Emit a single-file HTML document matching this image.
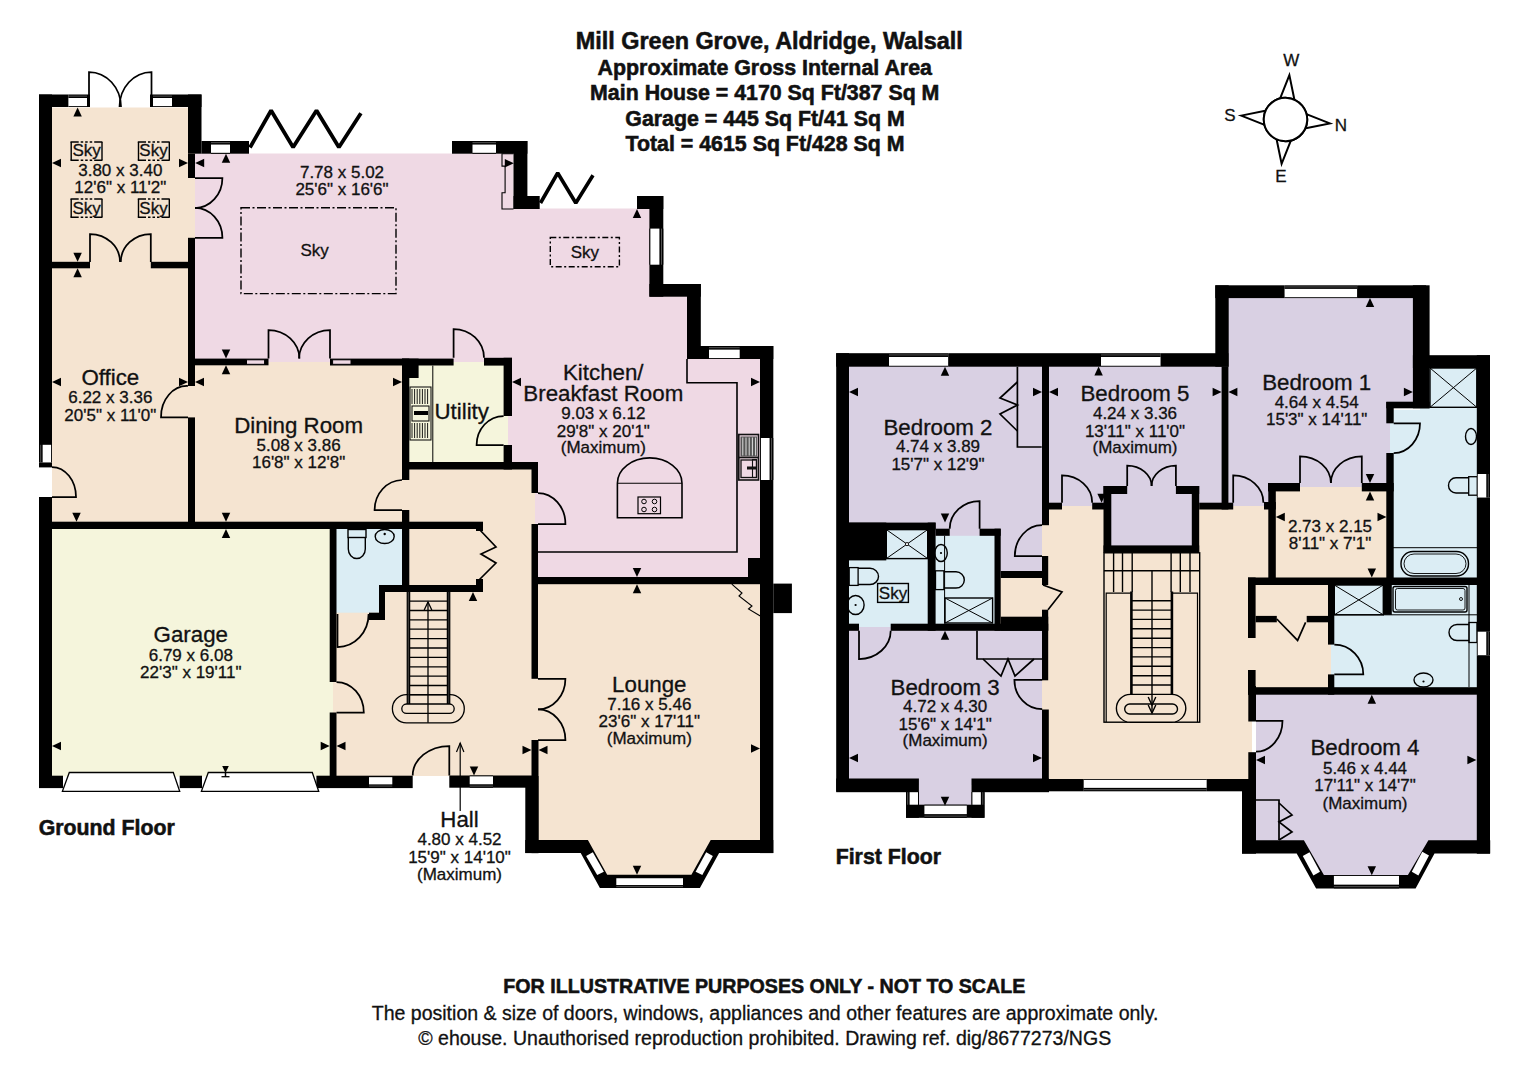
<!DOCTYPE html>
<html><head><meta charset="utf-8"><title>Floor Plan</title>
<style>
html,body{margin:0;padding:0;background:#fff;}
svg{display:block;}
text{font-family:"Liberation Sans", sans-serif;fill:#111;stroke:#111;stroke-width:0.3px;}
text[font-weight="700"]{stroke-width:0.55px;}
</style></head><body>
<svg width="1529" height="1080" viewBox="0 0 1529 1080">
<rect x="0" y="0" width="1529" height="1080" fill="#fff"/>
<rect x="45.00" y="107.50" width="150.00" height="154.50" fill="#F5E4D1" />
<rect x="52.00" y="262.00" width="140.00" height="263.00" fill="#F5E4D1" />
<rect x="192.00" y="362.00" width="214.00" height="163.00" fill="#F5E4D1" />
<rect x="332.00" y="466.00" width="203.00" height="310.00" fill="#F5E4D1" />
<polygon points="195.00,153.50 513.50,153.50 513.50,208.50 656.00,208.50 656.00,290.00 694.00,290.00 694.00,352.00 766.00,352.00 766.00,580.00 535.00,580.00 535.00,466.00 508.00,466.00 508.00,362.00 195.00,362.00" fill="#EFD9E4" stroke="none" stroke-width="0" />
<rect x="406.00" y="362.00" width="102.00" height="104.00" fill="#F5F5DC" />
<rect x="45.00" y="525.00" width="288.00" height="251.50" fill="#F5F5DC" />
<rect x="333.00" y="525.00" width="73.00" height="63.00" fill="#DBEDF4" />
<rect x="333.00" y="585.00" width="46.00" height="27.70" fill="#DBEDF4" />
<polygon points="535.00,580.00 766.00,580.00 766.00,846.00 710.70,846.00 691.40,880.00 607.20,880.00 587.90,846.00 535.00,846.00" fill="#F5E4D1" stroke="none" stroke-width="0" />
<rect x="241.00" y="207.80" width="155.00" height="85.80" fill="none" stroke="#000" stroke-width="1.4" stroke-dasharray="9,2.5,2,2.5"/>
<rect x="550.30" y="237.50" width="69.10" height="29.20" fill="none" stroke="#000" stroke-width="1.4" stroke-dasharray="6,2.5,2,2.5"/>
<path d="M71.2,142 V160.2 M102.0,142 V160.2" stroke="#000" stroke-width="1.4" fill="none"/>
<path d="M70.5,142 H102.7 M70.5,160.2 H102.7" stroke="#000" stroke-width="1.4" fill="none" stroke-dasharray="8.2,2,2.5,2,2.5,2,2.5,2,8.2"/>
<path d="M138.5,142 V160.2 M169.3,142 V160.2" stroke="#000" stroke-width="1.4" fill="none"/>
<path d="M137.8,142 H170.0 M137.8,160.2 H170.0" stroke="#000" stroke-width="1.4" fill="none" stroke-dasharray="8.2,2,2.5,2,2.5,2,2.5,2,8.2"/>
<path d="M71.2,199 V217.2 M102.0,199 V217.2" stroke="#000" stroke-width="1.4" fill="none"/>
<path d="M70.5,199 H102.7 M70.5,217.2 H102.7" stroke="#000" stroke-width="1.4" fill="none" stroke-dasharray="8.2,2,2.5,2,2.5,2,2.5,2,8.2"/>
<path d="M138.5,199 V217.2 M169.3,199 V217.2" stroke="#000" stroke-width="1.4" fill="none"/>
<path d="M137.8,199 H170.0 M137.8,217.2 H170.0" stroke="#000" stroke-width="1.4" fill="none" stroke-dasharray="8.2,2,2.5,2,2.5,2,2.5,2,8.2"/>
<polyline points="687.00,359.00 687.00,382.80 737.00,382.80 737.00,552.00 538.00,552.00" fill="none" stroke="#000" stroke-width="1.6" />
<path d="M617.4,517.8 L617.4,483.2 A32.3,25.3 0 0 1 682,483.2 L682,517.8 Z" fill="none" stroke="#000" stroke-width="1.6" />
<path d="M617.4,483.2 L682,483.2" fill="none" stroke="#000" stroke-width="1.1" />
<rect x="638.00" y="497.00" width="22.50" height="16.70" fill="none" stroke="#000" stroke-width="1.2"/>
<circle cx="644" cy="501.5" r="2.3" fill="none" stroke="#000" stroke-width="1"/>
<circle cx="654.5" cy="501.5" r="2.3" fill="none" stroke="#000" stroke-width="1"/>
<circle cx="644" cy="509.5" r="2.3" fill="none" stroke="#000" stroke-width="1"/>
<circle cx="654.5" cy="509.5" r="2.3" fill="none" stroke="#000" stroke-width="1"/>
<rect x="738.80" y="434.50" width="19.70" height="45.50" fill="none" stroke="#111" stroke-width="1.6"/>
<rect x="740.50" y="436.50" width="16.50" height="20.00" fill="#555" />
<line x1="742.8" y1="437.5" x2="742.8" y2="455.5" stroke="#eee" stroke-width="0.9"/>
<line x1="746.0" y1="437.5" x2="746.0" y2="455.5" stroke="#eee" stroke-width="0.9"/>
<line x1="749.2" y1="437.5" x2="749.2" y2="455.5" stroke="#eee" stroke-width="0.9"/>
<line x1="752.4" y1="437.5" x2="752.4" y2="455.5" stroke="#eee" stroke-width="0.9"/>
<line x1="755.6" y1="437.5" x2="755.6" y2="455.5" stroke="#eee" stroke-width="0.9"/>
<line x1="739" y1="457.5" x2="758.5" y2="457.5" stroke="#111" stroke-width="1.6"/>
<rect x="741.00" y="460.00" width="15.50" height="17.50" fill="none" stroke="#111" stroke-width="1.3"/>
<rect x="747.00" y="466.50" width="10.00" height="3.00" fill="#111" />
<rect x="752.50" y="459.50" width="4.00" height="18.00" fill="none" stroke="#111" stroke-width="1.1"/>
<polyline points="513.50,153.70 502.00,153.70 502.00,166.10 505.10,166.10 505.10,192.80 502.00,192.80 502.00,209.00 513.50,209.00" fill="none" stroke="#000" stroke-width="1.1" />
<polygon points="513.80,163.30 504.80,159.07 504.80,167.53" fill="#000" stroke="none" stroke-width="0" />
<line x1="432.8" y1="365.6" x2="432.8" y2="462" stroke="#000" stroke-width="1"/>
<rect x="410.00" y="387.00" width="21.00" height="53.00" fill="none" stroke="#000" stroke-width="1"/>
<line x1="412.0" y1="389" x2="412.0" y2="404" stroke="#000" stroke-width="0.9"/>
<line x1="412.0" y1="423" x2="412.0" y2="438" stroke="#000" stroke-width="0.9"/>
<line x1="414.6" y1="389" x2="414.6" y2="404" stroke="#000" stroke-width="0.9"/>
<line x1="414.6" y1="423" x2="414.6" y2="438" stroke="#000" stroke-width="0.9"/>
<line x1="417.2" y1="389" x2="417.2" y2="404" stroke="#000" stroke-width="0.9"/>
<line x1="417.2" y1="423" x2="417.2" y2="438" stroke="#000" stroke-width="0.9"/>
<line x1="419.8" y1="389" x2="419.8" y2="404" stroke="#000" stroke-width="0.9"/>
<line x1="419.8" y1="423" x2="419.8" y2="438" stroke="#000" stroke-width="0.9"/>
<line x1="422.4" y1="389" x2="422.4" y2="404" stroke="#000" stroke-width="0.9"/>
<line x1="422.4" y1="423" x2="422.4" y2="438" stroke="#000" stroke-width="0.9"/>
<line x1="425.0" y1="389" x2="425.0" y2="404" stroke="#000" stroke-width="0.9"/>
<line x1="425.0" y1="423" x2="425.0" y2="438" stroke="#000" stroke-width="0.9"/>
<line x1="427.6" y1="389" x2="427.6" y2="404" stroke="#000" stroke-width="0.9"/>
<line x1="427.6" y1="423" x2="427.6" y2="438" stroke="#000" stroke-width="0.9"/>
<rect x="412.00" y="406.00" width="17.00" height="15.00" fill="none" stroke="#000" stroke-width="1"/>
<rect x="414.00" y="411.00" width="14.00" height="4.00" fill="#000" />
<rect x="348.00" y="529.50" width="18.00" height="8.00" fill="none" stroke="#000" stroke-width="1.4"/>
<path d="M348.3,537.5 V549 A8.5,9.5 0 0 0 365.3,549 V537.5" fill="none" stroke="#000" stroke-width="1.4" />
<ellipse cx="384.7" cy="536.5" rx="9.5" ry="7" fill="none" stroke="#000" stroke-width="1.4"/>
<circle cx="384.7" cy="534" r="1.2" fill="#000"/>
<g stroke="#000" fill="none" stroke-width="1.3">
<rect x="392.4" y="694.6" width="71.9" height="28.2" rx="14.1" fill="#F5E4D1"/>
<line x1="407.3" y1="592" x2="407.3" y2="704.5" />
<line x1="409.6" y1="592" x2="409.6" y2="704.5" />
<line x1="447.4" y1="592" x2="447.4" y2="704.5" />
<line x1="449.7" y1="592" x2="449.7" y2="704.5" />
<path d="M408.4,592 V704.5 M448.5,592 V704.5" stroke-width="1.0" stroke="#2a2a2a"/>
<line x1="409.6" y1="601.1" x2="447.4" y2="601.1"/>
<line x1="409.6" y1="610.5" x2="447.4" y2="610.5"/>
<line x1="409.6" y1="619.9" x2="447.4" y2="619.9"/>
<line x1="409.6" y1="629.2" x2="447.4" y2="629.2"/>
<line x1="409.6" y1="638.6" x2="447.4" y2="638.6"/>
<line x1="409.6" y1="648.0" x2="447.4" y2="648.0"/>
<line x1="409.6" y1="657.4" x2="447.4" y2="657.4"/>
<line x1="409.6" y1="666.8" x2="447.4" y2="666.8"/>
<line x1="409.6" y1="676.1" x2="447.4" y2="676.1"/>
<line x1="409.6" y1="685.5" x2="447.4" y2="685.5"/>
<line x1="409.6" y1="694.9" x2="447.4" y2="694.9"/>
<rect x="401.8" y="704" width="52.4" height="9.4" rx="4.7" fill="#F5E4D1"/>
<line x1="428" y1="602" x2="428" y2="722.8"/>
<path d="M424.2,610 L428,602 L431.8,610"/>
</g>
<polyline points="479.00,529.00 496.00,547.00 481.00,554.00 496.00,563.00 479.00,580.00" fill="none" stroke="#000" stroke-width="1.7" />
<line x1="460.2" y1="743" x2="460.2" y2="811" stroke="#000" stroke-width="1.2"/>
<path d="M456.5,752 L460.2,743 L463.9,752" fill="none" stroke="#000" stroke-width="1.2"/>
<polyline points="731.80,584.20 742.00,593.00 739.00,596.00 752.00,606.00 748.50,609.00 760.30,616.00" fill="none" stroke="#000" stroke-width="1.1" />
<rect x="39.00" y="94.50" width="13.00" height="350.50" fill="#000" />
<rect x="39.00" y="444.80" width="13.00" height="17.80" fill="#000" />
<rect x="42.64" y="444.80" width="8.45" height="17.80" fill="#fff" />
<line x1="40.69" y1="444.80" x2="40.69" y2="462.60" stroke="#777" stroke-width="0.7"/>
<rect x="39.00" y="462.60" width="13.00" height="4.80" fill="#000" />
<rect x="39.00" y="497.00" width="13.00" height="290.50" fill="#000" />
<rect x="39.00" y="94.50" width="29.50" height="12.50" fill="#000" />
<rect x="68.50" y="94.50" width="18.50" height="12.50" fill="#000" />
<rect x="68.50" y="98.00" width="18.50" height="8.12" fill="#fff" />
<line x1="68.50" y1="96.12" x2="87.00" y2="96.12" stroke="#777" stroke-width="0.7"/>
<rect x="87.00" y="94.50" width="3.00" height="12.50" fill="#000" />
<rect x="150.00" y="94.50" width="3.00" height="12.50" fill="#000" />
<rect x="153.00" y="94.50" width="19.00" height="12.50" fill="#000" />
<rect x="153.00" y="98.00" width="19.00" height="8.12" fill="#fff" />
<line x1="153.00" y1="96.12" x2="172.00" y2="96.12" stroke="#777" stroke-width="0.7"/>
<rect x="172.00" y="94.50" width="29.50" height="12.50" fill="#000" />
<rect x="188.00" y="94.50" width="13.50" height="59.20" fill="#000" />
<rect x="188.00" y="153.70" width="7.00" height="24.30" fill="#000" />
<rect x="188.00" y="237.80" width="7.00" height="148.20" fill="#000" />
<rect x="188.00" y="417.40" width="7.00" height="111.60" fill="#000" />
<rect x="52.00" y="261.80" width="38.00" height="6.50" fill="#000" />
<rect x="150.80" y="261.80" width="44.20" height="6.50" fill="#000" />
<rect x="201.50" y="141.00" width="47.50" height="12.70" fill="#000" />
<rect x="211.00" y="141.00" width="19.00" height="12.70" fill="#000" />
<rect x="211.00" y="144.56" width="19.00" height="8.25" fill="#fff" />
<line x1="211.00" y1="142.65" x2="230.00" y2="142.65" stroke="#777" stroke-width="0.7"/>
<rect x="452.00" y="141.00" width="75.40" height="12.70" fill="#000" />
<rect x="472.50" y="141.00" width="23.50" height="12.70" fill="#000" />
<rect x="472.50" y="144.56" width="23.50" height="8.25" fill="#fff" />
<line x1="472.50" y1="142.65" x2="496.00" y2="142.65" stroke="#777" stroke-width="0.7"/>
<rect x="513.50" y="141.00" width="13.90" height="68.00" fill="#000" />
<rect x="513.50" y="196.00" width="26.20" height="13.00" fill="#000" />
<rect x="637.00" y="196.00" width="26.30" height="13.00" fill="#000" />
<rect x="649.40" y="196.00" width="13.90" height="100.70" fill="#000" />
<rect x="649.40" y="228.60" width="13.90" height="36.10" fill="#000" />
<rect x="650.37" y="228.60" width="9.04" height="36.10" fill="#fff" />
<line x1="661.49" y1="228.60" x2="661.49" y2="264.70" stroke="#777" stroke-width="0.7"/>
<rect x="649.40" y="284.00" width="51.40" height="12.70" fill="#000" />
<rect x="687.00" y="284.00" width="13.80" height="75.00" fill="#000" />
<rect x="687.00" y="346.00" width="86.30" height="13.00" fill="#000" />
<rect x="709.00" y="346.00" width="30.70" height="13.00" fill="#000" />
<rect x="709.00" y="349.64" width="30.70" height="8.45" fill="#fff" />
<line x1="709.00" y1="347.69" x2="739.70" y2="347.69" stroke="#777" stroke-width="0.7"/>
<rect x="760.00" y="346.00" width="13.30" height="507.10" fill="#000" />
<rect x="760.00" y="438.00" width="13.30" height="42.00" fill="#000" />
<rect x="760.93" y="438.00" width="8.64" height="42.00" fill="#fff" />
<line x1="771.57" y1="438.00" x2="771.57" y2="480.00" stroke="#777" stroke-width="0.7"/>
<rect x="773.30" y="583.60" width="18.60" height="29.50" fill="#000" />
<rect x="748.00" y="558.00" width="12.30" height="19.00" fill="#000" />
<rect x="195.00" y="358.60" width="73.50" height="6.70" fill="#000" />
<rect x="246.50" y="359.80" width="18.10" height="4.50" fill="#EFD9E4" stroke="#000" stroke-width="1"/>
<rect x="330.00" y="358.60" width="123.60" height="6.90" fill="#000" />
<rect x="332.60" y="359.80" width="18.40" height="4.50" fill="#EFD9E4" stroke="#000" stroke-width="1"/>
<rect x="484.00" y="357.80" width="28.00" height="7.80" fill="#000" />
<rect x="402.00" y="358.60" width="16.60" height="19.40" fill="#000" />
<rect x="402.00" y="358.60" width="7.30" height="121.40" fill="#000" />
<rect x="402.00" y="510.00" width="7.30" height="82.00" fill="#000" />
<rect x="503.60" y="357.80" width="8.40" height="58.20" fill="#000" />
<rect x="503.60" y="445.00" width="8.40" height="24.50" fill="#000" />
<rect x="402.00" y="462.00" width="136.00" height="7.50" fill="#000" />
<rect x="531.50" y="462.00" width="6.50" height="31.00" fill="#000" />
<rect x="531.50" y="524.00" width="6.50" height="154.80" fill="#000" />
<rect x="531.50" y="740.00" width="7.00" height="113.10" fill="#000" />
<rect x="525.30" y="776.00" width="13.20" height="77.10" fill="#000" />
<rect x="538.00" y="577.00" width="222.30" height="7.20" fill="#000" />
<rect x="39.00" y="521.70" width="444.00" height="7.30" fill="#000" />
<rect x="476.00" y="523.00" width="7.00" height="8.00" fill="#000" />
<rect x="379.00" y="585.00" width="104.00" height="7.00" fill="#000" />
<rect x="476.00" y="579.00" width="7.00" height="13.00" fill="#000" />
<rect x="379.00" y="585.00" width="6.00" height="35.00" fill="#000" />
<rect x="369.00" y="612.70" width="16.00" height="7.30" fill="#000" />
<rect x="329.70" y="529.00" width="6.80" height="153.00" fill="#000" />
<rect x="329.70" y="712.50" width="6.80" height="75.00" fill="#000" />
<rect x="39.00" y="775.70" width="24.00" height="12.40" fill="#000" />
<rect x="179.70" y="775.70" width="22.30" height="12.40" fill="#000" />
<rect x="316.40" y="775.70" width="96.30" height="12.40" fill="#000" />
<rect x="369.00" y="776.40" width="23.30" height="11.10" fill="#000" />
<rect x="369.00" y="777.18" width="23.30" height="7.21" fill="#fff" />
<line x1="369.00" y1="786.06" x2="392.30" y2="786.06" stroke="#777" stroke-width="0.7"/>
<rect x="449.30" y="775.50" width="88.70" height="12.20" fill="#000" />
<rect x="469.70" y="775.50" width="23.30" height="12.20" fill="#000" />
<rect x="469.70" y="776.35" width="23.30" height="7.93" fill="#fff" />
<line x1="469.70" y1="786.11" x2="493.00" y2="786.11" stroke="#777" stroke-width="0.7"/>
<polygon points="525.30,853.10 580.70,853.10 599.90,888.00 699.90,888.00 719.10,853.10 773.30,853.10 773.30,839.90 710.70,839.90 691.40,874.80 607.20,874.80 587.90,839.90 525.30,839.90" fill="#000" stroke="none" stroke-width="0" />
<rect x="616.30" y="877.50" width="66.70" height="10.50" fill="#000" />
<rect x="616.30" y="878.24" width="66.70" height="6.82" fill="#fff" />
<line x1="616.30" y1="886.63" x2="683.00" y2="886.63" stroke="#777" stroke-width="0.7"/>
<polygon points="586.10,856.10 592.80,852.20 603.90,871.70 597.20,875.00" fill="#fff" stroke="none" stroke-width="0" />
<polygon points="712.90,856.10 706.20,852.20 695.60,871.70 702.30,875.00" fill="#fff" stroke="none" stroke-width="0" />
<polygon points="69.30,772.50 173.30,772.50 179.70,791.30 62.40,791.30" fill="#fff" stroke="#000" stroke-width="1.3" />
<polygon points="208.30,772.50 312.30,772.50 318.70,791.30 201.40,791.30" fill="#fff" stroke="#000" stroke-width="1.3" />
<path d="M89,107 L89,72 A32,35 0 0 1 121,107" fill="none" stroke="#000" stroke-width="1.75" />
<path d="M151.5,107 L151.5,72 A32,35 0 0 0 119.5,107" fill="none" stroke="#000" stroke-width="1.75" />
<path d="M90,262 L90,234 A30,28 0 0 1 120,262" fill="none" stroke="#000" stroke-width="1.75" />
<path d="M150.8,262 L150.8,234 A30,28 0 0 0 120.8,262" fill="none" stroke="#000" stroke-width="1.75" />
<path d="M195,178 L222.4,178 A27.4,30 0 0 1 195,208" fill="none" stroke="#000" stroke-width="1.75" />
<path d="M195,237.8 L222.4,237.8 A27.4,30 0 0 0 195,207.8" fill="none" stroke="#000" stroke-width="1.75" />
<path d="M52,467 A24,30 0 0 1 76,497 L52,497" fill="none" stroke="#000" stroke-width="1.75" />
<path d="M188,386 A26,31 0 0 0 161,417.4 L188,417.4" fill="none" stroke="#000" stroke-width="1.75" />
<path d="M268.5,358.6 L268.5,330 A31,29 0 0 1 299.5,358.6" fill="none" stroke="#000" stroke-width="1.75" />
<path d="M330,358.6 L330,330 A31,29 0 0 0 299,358.6" fill="none" stroke="#000" stroke-width="1.75" />
<path d="M453.6,357.8 L453.6,329 A30.4,28.8 0 0 1 484,357.8" fill="none" stroke="#000" stroke-width="1.75" />
<path d="M503.6,416 A27,29 0 0 0 476.6,445 L503.6,445" fill="none" stroke="#000" stroke-width="1.75" />
<path d="M402,480 A28,30 0 0 0 374.6,510 L402,510" fill="none" stroke="#000" stroke-width="1.75" />
<path d="M538,493 A27.4,31 0 0 1 565.4,524 L538,524" fill="none" stroke="#000" stroke-width="1.75" />
<path d="M337.5,614 L337.5,647 A31,33 0 0 0 368.6,614" fill="none" stroke="#000" stroke-width="1.75" />
<path d="M336.5,682 A27.3,30.5 0 0 1 363.8,712.5 L336.5,712.5" fill="none" stroke="#000" stroke-width="1.75" />
<path d="M538,678.8 L565.4,678.8 A27.4,30.6 0 0 1 538,709.4" fill="none" stroke="#000" stroke-width="1.75" />
<path d="M538,740 L565.4,740 A27.4,30.6 0 0 0 538,709.4" fill="none" stroke="#000" stroke-width="1.75" />
<path d="M449.3,775.5 L449.3,746 A36.6,29.5 0 0 0 412.7,775.5" fill="none" stroke="#000" stroke-width="1.75" />
<polyline points="250.00,147.50 271.10,110.50 293.10,147.20 316.50,110.50 338.90,147.20 360.90,113.20" fill="none" stroke="#000" stroke-width="3.8" stroke-linejoin="bevel"/>
<polyline points="540.50,203.00 557.70,173.00 575.80,203.00 593.00,175.20" fill="none" stroke="#000" stroke-width="3.6" stroke-linejoin="bevel"/>
<polygon points="77.60,107.50 73.37,116.50 81.83,116.50" fill="#000" stroke="none" stroke-width="0" />
<polygon points="52.00,163.00 61.00,158.77 61.00,167.23" fill="#000" stroke="none" stroke-width="0" />
<polygon points="188.00,163.00 179.00,158.77 179.00,167.23" fill="#000" stroke="none" stroke-width="0" />
<polygon points="195.20,163.00 204.20,158.77 204.20,167.23" fill="#000" stroke="none" stroke-width="0" />
<polygon points="226.00,153.70 221.77,162.70 230.23,162.70" fill="#000" stroke="none" stroke-width="0" />
<polygon points="77.60,261.80 73.37,252.80 81.83,252.80" fill="#000" stroke="none" stroke-width="0" />
<polygon points="77.60,268.30 73.37,277.30 81.83,277.30" fill="#000" stroke="none" stroke-width="0" />
<polygon points="52.00,382.00 61.00,377.77 61.00,386.23" fill="#000" stroke="none" stroke-width="0" />
<polygon points="188.00,382.00 179.00,377.77 179.00,386.23" fill="#000" stroke="none" stroke-width="0" />
<polygon points="195.00,382.00 204.00,377.77 204.00,386.23" fill="#000" stroke="none" stroke-width="0" />
<polygon points="402.00,382.00 393.00,377.77 393.00,386.23" fill="#000" stroke="none" stroke-width="0" />
<polygon points="226.00,358.60 221.77,349.60 230.23,349.60" fill="#000" stroke="none" stroke-width="0" />
<polygon points="226.00,365.30 221.77,374.30 230.23,374.30" fill="#000" stroke="none" stroke-width="0" />
<polygon points="76.50,521.70 72.27,512.70 80.73,512.70" fill="#000" stroke="none" stroke-width="0" />
<polygon points="226.00,521.70 221.77,512.70 230.23,512.70" fill="#000" stroke="none" stroke-width="0" />
<polygon points="226.00,529.00 221.77,538.00 230.23,538.00" fill="#000" stroke="none" stroke-width="0" />
<polygon points="637.00,209.00 632.77,218.00 641.23,218.00" fill="#000" stroke="none" stroke-width="0" />
<polygon points="512.00,382.00 521.00,377.77 521.00,386.23" fill="#000" stroke="none" stroke-width="0" />
<polygon points="760.00,382.00 751.00,377.77 751.00,386.23" fill="#000" stroke="none" stroke-width="0" />
<polygon points="637.00,577.00 632.77,568.00 641.23,568.00" fill="#000" stroke="none" stroke-width="0" />
<polygon points="637.00,584.20 632.77,593.20 641.23,593.20" fill="#000" stroke="none" stroke-width="0" />
<polygon points="52.00,746.00 61.00,741.77 61.00,750.23" fill="#000" stroke="none" stroke-width="0" />
<polygon points="329.70,746.00 320.70,741.77 320.70,750.23" fill="#000" stroke="none" stroke-width="0" />
<polygon points="336.50,746.00 345.50,741.77 345.50,750.23" fill="#000" stroke="none" stroke-width="0" />
<polygon points="531.50,750.00 522.50,745.77 522.50,754.23" fill="#000" stroke="none" stroke-width="0" />
<polygon points="538.50,750.00 547.50,745.77 547.50,754.23" fill="#000" stroke="none" stroke-width="0" />
<polygon points="760.00,748.50 751.00,744.27 751.00,752.73" fill="#000" stroke="none" stroke-width="0" />
<polygon points="225.50,773.00 222.21,766.00 228.79,766.00" fill="#000" stroke="none" stroke-width="0" />
<line x1="225.5" y1="772" x2="225.5" y2="776.7" stroke="#000" stroke-width="1.5"/>
<line x1="221.5" y1="776.7" x2="229.5" y2="776.7" stroke="#000" stroke-width="1.3"/>
<polygon points="473.00,592.00 468.77,601.00 477.23,601.00" fill="#000" stroke="none" stroke-width="0" />
<polygon points="474.00,775.50 469.77,766.50 478.23,766.50" fill="#000" stroke="none" stroke-width="0" />
<polygon points="637.00,874.80 632.77,865.80 641.23,865.80" fill="#000" stroke="none" stroke-width="0" />
<rect x="845.00" y="362.00" width="201.00" height="174.00" fill="#D9D0E3" />
<rect x="997.00" y="527.00" width="49.00" height="48.00" fill="#D9D0E3" />
<rect x="1046.00" y="362.00" width="179.00" height="144.00" fill="#D9D0E3" />
<rect x="1225.00" y="294.00" width="191.00" height="112.00" fill="#D9D0E3" />
<rect x="1225.00" y="406.00" width="165.00" height="81.00" fill="#D9D0E3" />
<rect x="1225.00" y="487.00" width="46.00" height="19.00" fill="#D9D0E3" />
<rect x="845.00" y="627.00" width="201.00" height="158.00" fill="#D9D0E3" />
<rect x="919.00" y="785.00" width="52.50" height="21.00" fill="#D9D0E3" />
<rect x="1042.00" y="506.00" width="210.00" height="279.00" fill="#F5E4D1" />
<rect x="1252.00" y="506.00" width="19.00" height="75.00" fill="#F5E4D1" />
<rect x="1271.00" y="487.00" width="119.00" height="94.00" fill="#F5E4D1" />
<rect x="1252.00" y="581.00" width="79.00" height="110.00" fill="#F5E4D1" />
<rect x="997.00" y="575.00" width="49.00" height="52.00" fill="#F5E4D1" />
<rect x="1111.00" y="490.00" width="81.00" height="59.00" fill="#D9D0E3" />
<rect x="1420.00" y="362.00" width="63.00" height="48.00" fill="#DBEDF4" />
<rect x="1390.00" y="410.00" width="93.00" height="171.00" fill="#DBEDF4" />
<rect x="1331.00" y="581.00" width="152.00" height="110.00" fill="#DBEDF4" />
<rect x="849.00" y="560.00" width="82.00" height="67.00" fill="#DBEDF4" />
<rect x="886.00" y="529.00" width="45.00" height="31.00" fill="#DBEDF4" />
<rect x="931.00" y="535.80" width="66.00" height="91.20" fill="#DBEDF4" />
<polygon points="1256.00,691.00 1483.00,691.00 1483.00,846.00 1428.40,846.00 1407.90,880.00 1323.90,880.00 1303.90,846.00 1256.00,846.00" fill="#D9D0E3" stroke="none" stroke-width="0" />
<polyline points="1017.40,366.70 1017.40,447.00 1041.70,447.00" fill="none" stroke="#000" stroke-width="1.7" />
<polyline points="1017.40,382.00 1000.00,398.00 1017.40,405.00 1000.00,414.00 1017.40,431.00" fill="none" stroke="#000" stroke-width="1.7" />
<polyline points="977.00,630.80 977.00,659.00 1042.00,659.00" fill="none" stroke="#000" stroke-width="1.7" />
<polyline points="983.00,659.00 1001.00,676.00 1008.00,659.00 1015.00,676.00 1034.00,659.00" fill="none" stroke="#000" stroke-width="1.7" />
<polyline points="1256.00,800.00 1279.00,800.00 1279.00,840.00" fill="none" stroke="#000" stroke-width="1.7" />
<polyline points="1279.00,803.00 1292.00,815.00 1279.00,822.00 1292.00,832.00 1279.00,840.00" fill="none" stroke="#000" stroke-width="1.7" />
<rect x="886.30" y="529.60" width="41.40" height="29.00" fill="none" stroke="#000" stroke-width="1.4"/>
<path d="M886.3,529.6 L927.7,558.6 M927.7,529.6 L886.3,558.6" fill="none" stroke="#000" stroke-width="1.0" />
<circle cx="907" cy="544.1" r="1.6" fill="#fff" stroke="#000" stroke-width="0.9"/>
<rect x="849.20" y="567.60" width="8.90" height="17.80" fill="none" stroke="#000" stroke-width="1.3"/>
<path d="M858.1,568.3 H870 A8.5,8.1 0 0 1 870,584.5 H858.1" fill="none" stroke="#000" stroke-width="1.4" />
<ellipse cx="855.6" cy="605" rx="8.5" ry="9.5" fill="none" stroke="#000" stroke-width="1.4"/>
<circle cx="855.6" cy="605" r="1.1" fill="#000"/>
<rect x="877.60" y="583.50" width="30.80" height="18.90" fill="none" stroke="#000" stroke-width="1.4"/>
<line x1="944.6" y1="535.8" x2="944.6" y2="623.7" stroke="#000" stroke-width="1"/>
<rect x="945.00" y="598.00" width="47.60" height="25.00" fill="none" stroke="#000" stroke-width="1.4"/>
<path d="M945,598 L992.6,623 M992.6,598 L945,623" fill="none" stroke="#000" stroke-width="1.0" />
<ellipse cx="941" cy="553" rx="6.3" ry="8.5" fill="none" stroke="#000" stroke-width="1.4"/>
<circle cx="941" cy="553" r="1.1" fill="#000"/>
<path d="M943.9,571.8 H956 A8.3,8.1 0 0 1 956,588 H943.9" fill="none" stroke="#000" stroke-width="1.4" />
<rect x="935.50" y="570.80" width="8.40" height="18.80" fill="none" stroke="#000" stroke-width="1.3"/>
<rect x="1430.00" y="368.00" width="46.80" height="39.30" fill="none" stroke="#000" stroke-width="1.4"/>
<path d="M1430,368 L1476.8,407.3 M1476.8,368 L1430,407.3" fill="none" stroke="#000" stroke-width="1.0" />
<ellipse cx="1471" cy="436.5" rx="5.5" ry="8" fill="none" stroke="#000" stroke-width="1.4"/>
<path d="M1468.7,477.8 H1456 A7.5,7.6 0 0 0 1456,493 H1468.7" fill="none" stroke="#000" stroke-width="1.4" />
<rect x="1468.70" y="476.70" width="8.70" height="18.50" fill="none" stroke="#000" stroke-width="1.3"/>
<line x1="1393" y1="547.7" x2="1477" y2="547.7" stroke="#000" stroke-width="1"/>
<rect x="1401.00" y="551.50" width="67.50" height="24.50" fill="none" stroke="#000" stroke-width="1.4" rx="12"/>
<rect x="1404.00" y="554.00" width="62.00" height="19.50" fill="none" stroke="#000" stroke-width="0.9" rx="10"/>
<rect x="1334.30" y="585.00" width="49.00" height="29.80" fill="none" stroke="#000" stroke-width="1.4"/>
<path d="M1334.3,585 L1383.3,614.8 M1383.3,585 L1334.3,614.8" fill="none" stroke="#000" stroke-width="1.0" />
<line x1="1334.3" y1="614.8" x2="1477" y2="614.8" stroke="#000" stroke-width="1"/>
<rect x="1393.00" y="586.50" width="74.00" height="25.50" fill="none" stroke="#000" stroke-width="1.4" rx="2"/>
<rect x="1395.50" y="588.50" width="69.50" height="21.50" fill="none" stroke="#000" stroke-width="0.9" rx="2"/>
<circle cx="1461" cy="599" r="1.5" fill="none" stroke="#000" stroke-width="0.9"/>
<line x1="1469" y1="585" x2="1469" y2="687" stroke="#000" stroke-width="1"/>
<path d="M1469,624.5 H1457 A8,8 0 0 0 1457,640.5 H1469" fill="none" stroke="#000" stroke-width="1.4" />
<rect x="1469.00" y="622.50" width="8.00" height="20.00" fill="none" stroke="#000" stroke-width="1.3"/>
<ellipse cx="1423.5" cy="680" rx="9.5" ry="7" fill="none" stroke="#000" stroke-width="1.4"/>
<circle cx="1423.5" cy="681.5" r="1.1" fill="#000"/>
<polyline points="1276.80,619.00 1297.60,640.40 1305.60,622.30" fill="none" stroke="#000" stroke-width="1.7" />
<polyline points="1043.00,585.00 1062.00,592.00 1048.00,609.70" fill="none" stroke="#000" stroke-width="1.7" />
<g stroke="#000" fill="none" stroke-width="1.4">
<rect x="1104" y="552.8" width="95.7" height="169.4"/>
<path d="M1106.2,722 V593.2 H1130.3 M1197.5,722 V593.2 H1173" stroke-width="1.2"/>
<line x1="1113.6" y1="552.8" x2="1113.6" y2="592"/>
<line x1="1122.5" y1="552.8" x2="1122.5" y2="592"/>
<line x1="1132.2" y1="552.8" x2="1132.2" y2="592"/>
<line x1="1171.1" y1="552.8" x2="1171.1" y2="592"/>
<line x1="1180.3" y1="552.8" x2="1180.3" y2="592"/>
<line x1="1190" y1="552.8" x2="1190" y2="592"/>
<line x1="1104" y1="570.8" x2="1199.7" y2="570.8"/>
<line x1="1131" y1="600.7" x2="1172.3" y2="600.7"/>
<line x1="1131" y1="610.1" x2="1172.3" y2="610.1"/>
<line x1="1131" y1="619.4" x2="1172.3" y2="619.4"/>
<line x1="1131" y1="628.8" x2="1172.3" y2="628.8"/>
<line x1="1131" y1="638.2" x2="1172.3" y2="638.2"/>
<line x1="1131" y1="647.6" x2="1172.3" y2="647.6"/>
<line x1="1131" y1="656.9" x2="1172.3" y2="656.9"/>
<line x1="1131" y1="666.3" x2="1172.3" y2="666.3"/>
<line x1="1131" y1="675.7" x2="1172.3" y2="675.7"/>
<line x1="1131" y1="685.0" x2="1172.3" y2="685.0"/>
<path d="M1131.4,591.5 V694.6 M1171.9,591.5 V694.6" stroke-width="2.6"/>
<rect x="1116.4" y="694.4" width="69.4" height="27.8" rx="13.9" fill="#F5E4D1"/>
<rect x="1124.7" y="704" width="52.8" height="10" rx="5"/>
<line x1="1152" y1="570.8" x2="1152" y2="713"/>
<path d="M1148.2,697 L1152,705 L1155.8,697 M1148.2,705 L1152,713 L1155.8,705"/>
</g>
<rect x="836.20" y="353.20" width="12.80" height="438.30" fill="#000" />
<rect x="836.20" y="353.20" width="52.80" height="13.50" fill="#000" />
<rect x="889.00" y="353.20" width="59.20" height="13.50" fill="#000" />
<rect x="889.00" y="356.98" width="59.20" height="8.78" fill="#fff" />
<line x1="889.00" y1="354.95" x2="948.20" y2="354.95" stroke="#777" stroke-width="0.7"/>
<rect x="948.20" y="353.20" width="152.80" height="13.50" fill="#000" />
<rect x="1101.00" y="353.20" width="59.70" height="13.50" fill="#000" />
<rect x="1101.00" y="356.98" width="59.70" height="8.78" fill="#fff" />
<line x1="1101.00" y1="354.95" x2="1160.70" y2="354.95" stroke="#777" stroke-width="0.7"/>
<rect x="1160.70" y="353.20" width="67.70" height="13.50" fill="#000" />
<rect x="1215.30" y="285.30" width="69.40" height="12.80" fill="#000" />
<rect x="1284.70" y="285.30" width="72.40" height="12.80" fill="#000" />
<rect x="1284.70" y="288.88" width="72.40" height="8.32" fill="#fff" />
<line x1="1284.70" y1="286.96" x2="1357.10" y2="286.96" stroke="#777" stroke-width="0.7"/>
<rect x="1357.10" y="285.30" width="69.00" height="12.80" fill="#000" />
<rect x="1215.30" y="285.30" width="13.40" height="81.40" fill="#000" />
<rect x="1412.90" y="285.30" width="16.70" height="123.00" fill="#000" />
<rect x="1412.90" y="355.20" width="77.10" height="12.80" fill="#000" />
<rect x="1476.80" y="355.20" width="13.20" height="118.80" fill="#000" />
<rect x="1476.80" y="474.00" width="13.20" height="23.70" fill="#000" />
<rect x="1477.72" y="474.00" width="8.58" height="23.70" fill="#fff" />
<line x1="1488.28" y1="474.00" x2="1488.28" y2="497.70" stroke="#777" stroke-width="0.7"/>
<rect x="1476.80" y="497.70" width="13.20" height="134.10" fill="#000" />
<rect x="1476.80" y="631.80" width="13.20" height="23.50" fill="#000" />
<rect x="1477.72" y="631.80" width="8.58" height="23.50" fill="#fff" />
<line x1="1488.28" y1="631.80" x2="1488.28" y2="655.30" stroke="#777" stroke-width="0.7"/>
<rect x="1476.80" y="655.30" width="13.20" height="198.40" fill="#000" />
<rect x="1386.30" y="401.70" width="43.30" height="6.60" fill="#000" />
<rect x="1386.30" y="402.00" width="7.40" height="21.30" fill="#000" />
<rect x="1386.30" y="453.00" width="7.40" height="132.00" fill="#000" />
<rect x="1042.00" y="366.00" width="7.00" height="159.20" fill="#000" />
<rect x="849.00" y="522.60" width="86.60" height="7.00" fill="#000" />
<rect x="849.00" y="522.60" width="37.30" height="37.80" fill="#000" />
<rect x="927.70" y="522.60" width="7.90" height="108.20" fill="#000" />
<rect x="935.60" y="528.70" width="14.10" height="7.10" fill="#000" />
<rect x="979.60" y="528.70" width="21.10" height="7.10" fill="#000" />
<rect x="994.50" y="528.70" width="6.20" height="102.10" fill="#000" />
<rect x="1000.70" y="571.00" width="42.30" height="7.00" fill="#000" />
<rect x="1042.00" y="556.00" width="6.20" height="29.00" fill="#000" />
<rect x="1042.00" y="609.70" width="6.20" height="70.60" fill="#000" />
<rect x="1042.00" y="709.50" width="6.80" height="82.00" fill="#000" />
<rect x="849.00" y="623.70" width="10.00" height="7.10" fill="#000" />
<rect x="890.70" y="623.70" width="157.50" height="7.10" fill="#000" />
<rect x="1000.70" y="616.70" width="47.50" height="14.10" fill="#000" />
<rect x="1221.60" y="366.50" width="6.80" height="143.00" fill="#000" />
<rect x="1049.00" y="502.70" width="13.00" height="6.80" fill="#000" />
<rect x="1092.20" y="502.70" width="11.80" height="6.80" fill="#000" />
<rect x="1103.50" y="486.00" width="23.70" height="8.00" fill="#000" />
<rect x="1175.90" y="486.00" width="23.30" height="8.00" fill="#000" />
<rect x="1103.50" y="486.00" width="7.80" height="66.30" fill="#000" />
<rect x="1191.80" y="486.00" width="7.40" height="66.30" fill="#000" />
<rect x="1103.50" y="545.40" width="95.70" height="7.40" fill="#000" />
<rect x="1199.20" y="502.70" width="34.00" height="6.80" fill="#000" />
<rect x="1264.00" y="502.00" width="11.80" height="7.50" fill="#000" />
<rect x="1268.00" y="483.00" width="32.00" height="8.40" fill="#000" />
<rect x="1361.80" y="483.00" width="31.90" height="8.40" fill="#000" />
<rect x="1268.30" y="483.80" width="7.50" height="101.20" fill="#000" />
<rect x="1248.00" y="577.50" width="230.00" height="7.50" fill="#000" />
<rect x="1248.00" y="577.50" width="7.60" height="60.50" fill="#000" />
<rect x="1248.00" y="670.00" width="7.60" height="24.70" fill="#000" />
<rect x="1255.60" y="615.90" width="21.20" height="6.40" fill="#000" />
<rect x="1306.70" y="615.90" width="21.30" height="6.40" fill="#000" />
<rect x="1328.00" y="585.00" width="6.30" height="59.60" fill="#000" />
<rect x="1328.00" y="674.40" width="6.30" height="20.30" fill="#000" />
<rect x="1383.30" y="585.00" width="8.50" height="29.80" fill="#000" />
<rect x="1248.00" y="687.20" width="242.00" height="7.50" fill="#000" />
<rect x="1248.30" y="686.00" width="7.70" height="35.50" fill="#000" />
<rect x="1248.30" y="752.20" width="7.70" height="39.10" fill="#000" />
<rect x="1049.00" y="779.00" width="34.80" height="12.30" fill="#000" />
<rect x="1083.80" y="779.00" width="123.00" height="12.30" fill="#000" />
<rect x="1083.80" y="779.86" width="123.00" height="8.00" fill="#fff" />
<line x1="1083.80" y1="789.70" x2="1206.80" y2="789.70" stroke="#777" stroke-width="0.7"/>
<rect x="1206.80" y="779.00" width="49.20" height="12.30" fill="#000" />
<rect x="836.20" y="778.50" width="82.70" height="13.70" fill="#000" />
<rect x="971.50" y="778.50" width="77.50" height="13.70" fill="#000" />
<rect x="906.00" y="792.00" width="12.90" height="25.80" fill="#000" />
<rect x="971.50" y="792.00" width="13.00" height="25.80" fill="#000" />
<rect x="906.00" y="804.70" width="78.50" height="13.10" fill="#000" />
<rect x="906.00" y="792.20" width="12.90" height="12.50" fill="#000" />
<rect x="909.61" y="792.20" width="8.38" height="12.50" fill="#fff" />
<line x1="907.68" y1="792.20" x2="907.68" y2="804.70" stroke="#777" stroke-width="0.7"/>
<rect x="971.50" y="792.20" width="13.00" height="12.50" fill="#000" />
<rect x="972.41" y="792.20" width="8.45" height="12.50" fill="#fff" />
<line x1="982.81" y1="792.20" x2="982.81" y2="804.70" stroke="#777" stroke-width="0.7"/>
<rect x="924.40" y="804.70" width="42.40" height="13.10" fill="#000" />
<rect x="924.40" y="805.62" width="42.40" height="8.51" fill="#fff" />
<line x1="924.40" y1="816.10" x2="966.80" y2="816.10" stroke="#777" stroke-width="0.7"/>
<rect x="1242.00" y="779.00" width="14.00" height="74.70" fill="#000" />
<polygon points="1242.00,853.50 1296.70,853.50 1316.10,888.40 1415.60,888.40 1434.50,853.50 1490.20,853.50 1490.20,840.30 1428.40,840.30 1407.90,875.00 1323.90,875.00 1303.90,840.30 1242.00,840.30" fill="#000" stroke="none" stroke-width="0" />
<rect x="1333.90" y="875.00" width="65.10" height="13.40" fill="#000" />
<rect x="1333.90" y="875.94" width="65.10" height="8.71" fill="#fff" />
<line x1="1333.90" y1="886.66" x2="1399.00" y2="886.66" stroke="#777" stroke-width="0.7"/>
<polygon points="1302.80,856.10 1309.50,852.20 1320.00,871.70 1313.40,875.60" fill="#fff" stroke="none" stroke-width="0" />
<polygon points="1429.00,855.60 1422.30,851.70 1411.80,871.70 1418.40,875.60" fill="#fff" stroke="none" stroke-width="0" />
<path d="M1042,525.2 A27.2,30.8 0 0 0 1014.8,556 L1042,556" fill="none" stroke="#000" stroke-width="1.75" />
<path d="M979.6,528.7 L979.6,501 A29.9,27.7 0 0 0 949.7,528.7" fill="none" stroke="#000" stroke-width="1.75" />
<path d="M859,630.8 L859,659 A31.7,28.2 0 0 0 890.7,630.8" fill="none" stroke="#000" stroke-width="1.75" />
<path d="M1042.2,679.9 H1014.4 A27.8,29.3 0 0 0 1042.2,709.2" fill="none" stroke="#000" stroke-width="1.75" />
<path d="M1062,502.7 L1062,475.4 A30.2,27.3 0 0 1 1092.2,502.7" fill="none" stroke="#000" stroke-width="1.75" />
<path d="M1127.2,486 L1127.2,465.7 A24.4,20.3 0 0 1 1151.6,486" fill="none" stroke="#000" stroke-width="1.75" />
<path d="M1175.9,486 L1175.9,465.7 A24.4,20.3 0 0 0 1151.6,486" fill="none" stroke="#000" stroke-width="1.75" />
<path d="M1233.2,502.7 L1233.2,475.4 A30.2,27.3 0 0 1 1263.4,502.7" fill="none" stroke="#000" stroke-width="1.75" />
<path d="M1300,483 L1300,456.3 A30.9,26.7 0 0 1 1330.9,483" fill="none" stroke="#000" stroke-width="1.75" />
<path d="M1361.8,483 L1361.8,456.3 A30.9,26.7 0 0 0 1330.9,483" fill="none" stroke="#000" stroke-width="1.75" />
<path d="M1393.7,423.3 L1420,423.3 A26.3,29.7 0 0 1 1393.7,453" fill="none" stroke="#000" stroke-width="1.75" />
<path d="M1334.3,644.6 A29,29.8 0 0 1 1363.3,674.4 L1334.3,674.4" fill="none" stroke="#000" stroke-width="1.75" />
<path d="M1256,720.8 H1282.5 A26.5,30.9 0 0 1 1256,751.7" fill="none" stroke="#000" stroke-width="1.75" />
<polygon points="945.00,366.70 940.77,375.70 949.23,375.70" fill="#000" stroke="none" stroke-width="0" />
<polygon points="849.00,392.00 858.00,387.77 858.00,396.23" fill="#000" stroke="none" stroke-width="0" />
<polygon points="1042.00,392.00 1033.00,387.77 1033.00,396.23" fill="#000" stroke="none" stroke-width="0" />
<polygon points="1049.00,392.00 1058.00,387.77 1058.00,396.23" fill="#000" stroke="none" stroke-width="0" />
<polygon points="1221.60,392.00 1212.60,387.77 1212.60,396.23" fill="#000" stroke="none" stroke-width="0" />
<polygon points="1228.40,392.00 1237.40,387.77 1237.40,396.23" fill="#000" stroke="none" stroke-width="0" />
<polygon points="1098.60,366.50 1094.37,375.50 1102.83,375.50" fill="#000" stroke="none" stroke-width="0" />
<polygon points="1370.00,298.10 1365.77,307.10 1374.23,307.10" fill="#000" stroke="none" stroke-width="0" />
<polygon points="1412.90,392.00 1403.90,387.77 1403.90,396.23" fill="#000" stroke="none" stroke-width="0" />
<polygon points="945.00,522.60 940.77,513.60 949.23,513.60" fill="#000" stroke="none" stroke-width="0" />
<polygon points="945.00,630.80 940.77,639.80 949.23,639.80" fill="#000" stroke="none" stroke-width="0" />
<polygon points="849.00,758.00 858.00,753.77 858.00,762.23" fill="#000" stroke="none" stroke-width="0" />
<polygon points="1042.00,758.00 1033.00,753.77 1033.00,762.23" fill="#000" stroke="none" stroke-width="0" />
<polygon points="945.00,805.70 940.77,796.70 949.23,796.70" fill="#000" stroke="none" stroke-width="0" />
<polygon points="1101.60,502.70 1097.37,493.70 1105.83,493.70" fill="#000" stroke="none" stroke-width="0" />
<polygon points="1370.00,483.00 1365.77,474.00 1374.23,474.00" fill="#000" stroke="none" stroke-width="0" />
<polygon points="1370.00,491.40 1365.77,500.40 1374.23,500.40" fill="#000" stroke="none" stroke-width="0" />
<polygon points="1275.80,517.00 1284.80,512.77 1284.80,521.23" fill="#000" stroke="none" stroke-width="0" />
<polygon points="1386.50,517.00 1377.50,512.77 1377.50,521.23" fill="#000" stroke="none" stroke-width="0" />
<polygon points="1371.80,577.50 1367.57,568.50 1376.03,568.50" fill="#000" stroke="none" stroke-width="0" />
<polygon points="1371.80,694.80 1367.57,703.80 1376.03,703.80" fill="#000" stroke="none" stroke-width="0" />
<polygon points="1256.00,760.00 1265.00,755.77 1265.00,764.23" fill="#000" stroke="none" stroke-width="0" />
<polygon points="1476.40,760.00 1467.40,755.77 1467.40,764.23" fill="#000" stroke="none" stroke-width="0" />
<polygon points="1371.80,875.20 1367.57,866.20 1376.03,866.20" fill="#000" stroke="none" stroke-width="0" />
<text x="769.30" y="49.20" font-size="23.4" font-weight="700" text-anchor="middle">Mill Green Grove, Aldridge, Walsall</text>
<text x="764.75" y="74.50" font-size="21.4" font-weight="700" text-anchor="middle">Approximate Gross Internal Area</text>
<text x="764.75" y="100.00" font-size="21.35" font-weight="700" text-anchor="middle">Main House = 4170 Sq Ft/387 Sq M</text>
<text x="765.00" y="125.80" font-size="21.35" font-weight="700" text-anchor="middle">Garage = 445 Sq Ft/41 Sq M</text>
<text x="765.00" y="151.10" font-size="21.35" font-weight="700" text-anchor="middle">Total = 4615 Sq Ft/428 Sq M</text>
<text x="120.30" y="175.60" font-size="17" font-weight="400" text-anchor="middle">3.80 x 3.40</text>
<text x="120.30" y="193.40" font-size="17" font-weight="400" text-anchor="middle">12'6" x 11'2"</text>
<text x="86.70" y="156.10" font-size="17" font-weight="400" text-anchor="middle">Sky</text>
<text x="153.50" y="156.10" font-size="17" font-weight="400" text-anchor="middle">Sky</text>
<text x="86.70" y="213.50" font-size="17" font-weight="400" text-anchor="middle">Sky</text>
<text x="153.50" y="213.50" font-size="17" font-weight="400" text-anchor="middle">Sky</text>
<text x="342.00" y="177.70" font-size="17" font-weight="400" text-anchor="middle">7.78 x 5.02</text>
<text x="342.00" y="194.70" font-size="17" font-weight="400" text-anchor="middle">25'6" x 16'6"</text>
<text x="314.70" y="255.50" font-size="17" font-weight="400" text-anchor="middle">Sky</text>
<text x="584.90" y="257.50" font-size="17" font-weight="400" text-anchor="middle">Sky</text>
<text x="110.30" y="384.70" font-size="22.3" font-weight="400" text-anchor="middle">Office</text>
<text x="110.30" y="403.00" font-size="17" font-weight="400" text-anchor="middle">6.22 x 3.36</text>
<text x="110.30" y="420.60" font-size="17" font-weight="400" text-anchor="middle">20'5" x 11'0"</text>
<text x="298.60" y="433.00" font-size="22.3" font-weight="400" text-anchor="middle">Dining Room</text>
<text x="298.60" y="451.40" font-size="17" font-weight="400" text-anchor="middle">5.08 x 3.86</text>
<text x="298.60" y="468.40" font-size="17" font-weight="400" text-anchor="middle">16'8" x 12'8"</text>
<text x="461.70" y="419.00" font-size="22.3" font-weight="400" text-anchor="middle">Utility</text>
<text x="603.30" y="379.80" font-size="22.3" font-weight="400" text-anchor="middle">Kitchen/</text>
<text x="603.30" y="401.20" font-size="22.3" font-weight="400" text-anchor="middle">Breakfast Room</text>
<text x="603.30" y="419.20" font-size="17" font-weight="400" text-anchor="middle">9.03 x 6.12</text>
<text x="603.30" y="436.80" font-size="17" font-weight="400" text-anchor="middle">29'8" x 20'1"</text>
<text x="603.30" y="453.40" font-size="17" font-weight="400" text-anchor="middle">(Maximum)</text>
<text x="190.80" y="642.00" font-size="22.3" font-weight="400" text-anchor="middle">Garage</text>
<text x="190.80" y="660.50" font-size="17" font-weight="400" text-anchor="middle">6.79 x 6.08</text>
<text x="190.80" y="677.80" font-size="17" font-weight="400" text-anchor="middle">22'3" x 19'11"</text>
<text x="649.30" y="691.80" font-size="22.3" font-weight="400" text-anchor="middle">Lounge</text>
<text x="649.30" y="709.80" font-size="17" font-weight="400" text-anchor="middle">7.16 x 5.46</text>
<text x="649.30" y="726.70" font-size="17" font-weight="400" text-anchor="middle">23'6" x 17'11"</text>
<text x="649.30" y="744.00" font-size="17" font-weight="400" text-anchor="middle">(Maximum)</text>
<text x="459.50" y="827.10" font-size="22.3" font-weight="400" text-anchor="middle">Hall</text>
<text x="459.50" y="844.80" font-size="17" font-weight="400" text-anchor="middle">4.80 x 4.52</text>
<text x="459.50" y="862.50" font-size="17" font-weight="400" text-anchor="middle">15'9" x 14'10"</text>
<text x="459.50" y="879.50" font-size="17" font-weight="400" text-anchor="middle">(Maximum)</text>
<text x="38.70" y="835.30" font-size="21.3" font-weight="700" text-anchor="start">Ground Floor</text>
<text x="938.00" y="434.50" font-size="22.3" font-weight="400" text-anchor="middle">Bedroom 2</text>
<text x="938.00" y="452.40" font-size="17" font-weight="400" text-anchor="middle">4.74 x 3.89</text>
<text x="938.00" y="470.00" font-size="17" font-weight="400" text-anchor="middle">15'7" x 12'9"</text>
<text x="1135.00" y="401.00" font-size="22.3" font-weight="400" text-anchor="middle">Bedroom 5</text>
<text x="1135.00" y="419.00" font-size="17" font-weight="400" text-anchor="middle">4.24 x 3.36</text>
<text x="1135.00" y="436.50" font-size="17" font-weight="400" text-anchor="middle">13'11" x 11'0"</text>
<text x="1135.00" y="453.00" font-size="17" font-weight="400" text-anchor="middle">(Maximum)</text>
<text x="1316.70" y="390.30" font-size="22.3" font-weight="400" text-anchor="middle">Bedroom 1</text>
<text x="1316.70" y="408.00" font-size="17" font-weight="400" text-anchor="middle">4.64 x 4.54</text>
<text x="1316.70" y="425.00" font-size="17" font-weight="400" text-anchor="middle">15'3" x 14'11"</text>
<text x="945.10" y="694.90" font-size="22.3" font-weight="400" text-anchor="middle">Bedroom 3</text>
<text x="945.10" y="712.40" font-size="17" font-weight="400" text-anchor="middle">4.72 x 4.30</text>
<text x="945.10" y="729.90" font-size="17" font-weight="400" text-anchor="middle">15'6" x 14'1"</text>
<text x="945.10" y="746.40" font-size="17" font-weight="400" text-anchor="middle">(Maximum)</text>
<text x="1365.00" y="755.30" font-size="22.3" font-weight="400" text-anchor="middle">Bedroom 4</text>
<text x="1365.00" y="773.80" font-size="17" font-weight="400" text-anchor="middle">5.46 x 4.44</text>
<text x="1365.00" y="791.30" font-size="17" font-weight="400" text-anchor="middle">17'11" x 14'7"</text>
<text x="1365.00" y="809.00" font-size="17" font-weight="400" text-anchor="middle">(Maximum)</text>
<text x="1330.00" y="531.80" font-size="17" font-weight="400" text-anchor="middle">2.73 x 2.15</text>
<text x="1330.00" y="548.80" font-size="17" font-weight="400" text-anchor="middle">8'11" x 7'1"</text>
<text x="893.00" y="598.50" font-size="17" font-weight="400" text-anchor="middle">Sky</text>
<text x="835.70" y="864.40" font-size="21.3" font-weight="700" text-anchor="start">First Floor</text>
<g transform="rotate(5 1285.5 119.5)">
<circle cx="1285.5" cy="119.5" r="21.7" fill="#fff" stroke="#000" stroke-width="2"/>
<polygon points="1285.50,75.00 1278.50,98.50 1292.50,98.50" fill="none" stroke="#000" stroke-width="2" />
<polygon points="1285.50,164.00 1278.50,140.50 1292.50,140.50" fill="none" stroke="#000" stroke-width="2" />
<polygon points="1241.00,119.50 1264.50,112.50 1264.50,126.50" fill="none" stroke="#000" stroke-width="2" />
<polygon points="1330.00,119.50 1306.50,112.50 1306.50,126.50" fill="none" stroke="#000" stroke-width="2" />
<circle cx="1285.5" cy="119.5" r="21.7" fill="#fff" stroke="#000" stroke-width="2"/>
</g>
<text x="1291.30" y="65.60" font-size="17" font-weight="400" text-anchor="middle">W</text>
<text x="1230.00" y="121.00" font-size="17" font-weight="400" text-anchor="middle">S</text>
<text x="1341.00" y="131.00" font-size="17" font-weight="400" text-anchor="middle">N</text>
<text x="1280.80" y="181.50" font-size="17" font-weight="400" text-anchor="middle">E</text>
<text x="764.35" y="993.40" font-size="19.65" font-weight="700" text-anchor="middle">FOR ILLUSTRATIVE PURPOSES ONLY - NOT TO SCALE</text>
<text x="765.10" y="1020.00" font-size="19.55" font-weight="400" text-anchor="middle">The position &amp; size of doors, windows, appliances and other features are approximate only.</text>
<text x="764.70" y="1044.70" font-size="19.55" font-weight="400" text-anchor="middle">© ehouse. Unauthorised reproduction prohibited. Drawing ref. dig/8677273/NGS</text>
</svg>
</body></html>
